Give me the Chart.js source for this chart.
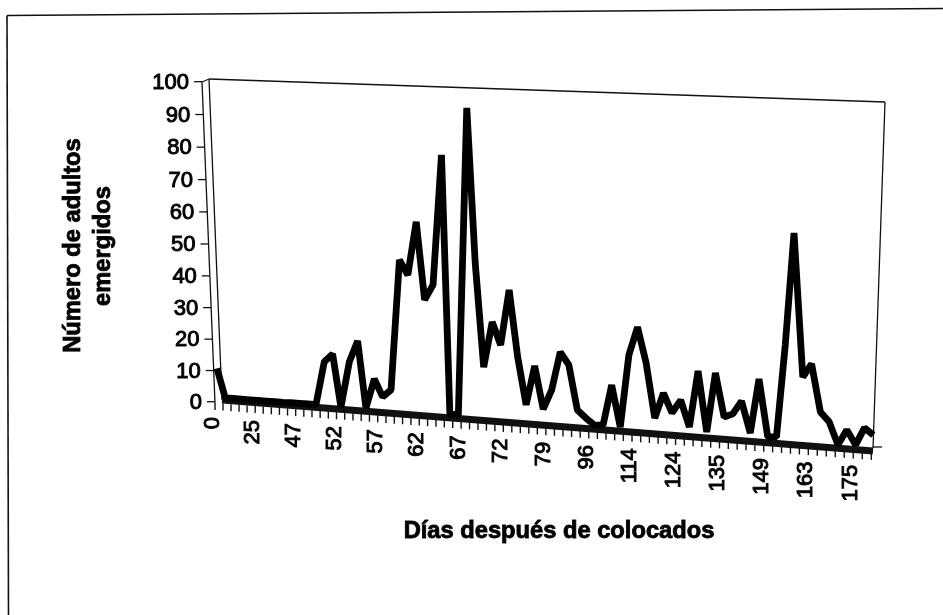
<!DOCTYPE html>
<html lang="es">
<head>
<meta charset="utf-8">
<title>Adultos emergidos</title>
<script src="https://cdn.jsdelivr.net/npm/chart.js@4"></script>
<style>
  html, body { margin: 0; padding: 0; background: #fff; overflow: hidden; }
</style>
</head>
<body>
<canvas id="grafico" width="943" height="615"></canvas>
<script>
// Valores leídos contra el eje vertical: el piso del gráfico 3D cae hacia la derecha,
// por eso los ceros del final quedan por debajo de 0.
const adultos = [
  10.4, 1.2, 1.0, 0.8, 0.6, 0.4, 0.2, 0, -0.2, -0.3, -0.5, -0.7, -0.9,
  12.5, 14.9, -1.7, 12.4, 19, -2, 7.1, 1.5, 3.7, 44.3, 39.6, 56.2, 31.8,
  36.5, 77.1, -3.8, -4.2, 91.8, 43.3, 10.8, 24.9, 17.7, 34.9, 14, -1, 11.2,
  -2.3, 3.7, 15.5, 11.5, -2.6, -5.1, -7.3, -7.3, 5.2, -7.9, 14.6, 23.3, 12.1,
  -5.1, 2.7, -3.5, 0.5, -7.9, 9.6, -9.5, 9, -4.8, -3.8, 0.2, -9.8, 7.1, -11,
  -11, 17.7, 52.7, 7.7, 11.8, -3.2, -6.3, -13.5, -8.8, -13.5, -8.2, -10.4
];
const etiquetasDias = ["0", "25", "47", "52", "57", "62", "67", "72", "79", "96", "114", "124", "135", "149", "163", "175"];
const marcasY = [0, 10, 20, 30, 40, 50, 60, 70, 80, 90, 100];
const tituloY = ["Número de adultos", "emergidos"];
const tituloX = "Días después de colocados";

const fuente = "'Liberation Sans', Arial, sans-serif";
const ultimo = adultos.length - 1;
const paso = 656 / ultimo; // px por categoría en el área del gráfico

// La perspectiva abre un poco las categorías hacia la derecha
const posDato = (i) => (8.2 * i + 0.0042 * i * i) / paso;
const posMarca = (i) => (-2 + 8 * i + 0.0068 * i * i) / paso;

function linea(ctx, x1, y1, x2, y2, ancho = 1.3) {
  ctx.lineWidth = ancho;
  ctx.beginPath();
  ctx.moveTo(x1, y1);
  ctx.lineTo(x2, y2);
  ctx.stroke();
}

const marco = {
  id: "marco",
  // Paredes y piso van debajo de la serie
  beforeDatasetsDraw(chart) {
    const { ctx } = chart;
    const { x, y } = chart.scales;
    ctx.save();
    ctx.strokeStyle = "#111";
    ctx.lineCap = "butt";

    // borde de la hoja
    linea(ctx, 7, 15.5, 943, 8.5, 1.4);
    linea(ctx, 7, 15.5, 8.5, 615, 1.6);

    // paredes
    linea(ctx, 202, 82, 215, 403);
    linea(ctx, 209, 79, 222, 400);
    linea(ctx, 202, 82, 209, 79);
    linea(ctx, 209, 79, 885, 102);
    linea(ctx, 885, 102, 873, 448);

    // piso
    linea(ctx, 222, 400, 873, 451, 7);
    linea(ctx, 873, 447, 882, 447, 1.3);

    // eje Y: cada marca sale de la pared inclinada
    ctx.fillStyle = "#000";
    ctx.font = `22px ${fuente}`;
    ctx.textAlign = "right";
    ctx.textBaseline = "middle";
    marcasY.forEach((v) => {
      const py = y.getPixelForValue(v) + (v * (100 - v)) / 1100;
      const px = 202 + 0.0405 * (py - 82);
      linea(ctx, px - 8, py, px, py);
      ctx.lineWidth = 1;
      ctx.strokeText(String(v), px - 5 - 8, py + 1);
      ctx.fillText(String(v), px - 5 - 8, py + 1);
    });

    // eje X: una marca por categoría, etiqueta cada cinco
    for (let i = 0; i <= ultimo; i++) {
      const px = x.getPixelForValue(posMarca(i));
      const py = 403 + 0.076 * (px - 215);
      linea(ctx, px, py, px, py + 7, 1.4);
    }
    etiquetasDias.forEach((txt, k) => {
      const px = x.getPixelForValue(posMarca(k * 5)) - 3;
      const py = 417 + 0.075 * (px - 213);
      ctx.save();
      ctx.translate(px, py);
      ctx.rotate(-Math.PI / 2);
      ctx.textAlign = "right";
      ctx.textBaseline = "middle";
      ctx.lineWidth = 1;
      ctx.strokeText(txt, 0, 1);
      ctx.fillText(txt, 0, 1);
      ctx.restore();
    });

    // títulos
    ctx.font = `bold 23.7px ${fuente}`;
    ctx.textAlign = "center";
    ctx.textBaseline = "alphabetic";
    ctx.lineWidth = 0.9;
    ctx.strokeText(tituloX, 559, 538);
    ctx.fillText(tituloX, 559, 538);
    [[80, 245.5], [110, 246]].forEach(([bx, cy], n) => {
      ctx.save();
      ctx.translate(bx, cy);
      ctx.rotate(-Math.PI / 2);
      ctx.strokeText(tituloY[n], 0, 0);
      ctx.fillText(tituloY[n], 0, 0);
      ctx.restore();
    });
    ctx.restore();
  },
};

new Chart(document.getElementById("grafico"), {
  type: "line",
  data: {
    datasets: [{
      label: "Número de adultos emergidos",
      data: adultos.map((v, i) => ({ x: posDato(i), y: v })),
      borderColor: "#000",
      borderWidth: 6.8,
      borderJoinStyle: "bevel",
      tension: 0,
      pointRadius: 0,
      clip: false,
    }],
  },
  options: {
    responsive: false,
    animation: false,
    layout: { padding: { left: 217, right: 70, top: 81.7, bottom: 149.3 } },
    plugins: { legend: { display: false }, tooltip: { enabled: false } },
    scales: {
      x: { type: "linear", display: false, min: 0, max: ultimo },
      y: { display: false, min: -20, max: 100 },
    },
  },
  plugins: [marco],
});
</script>
</body>
</html>
